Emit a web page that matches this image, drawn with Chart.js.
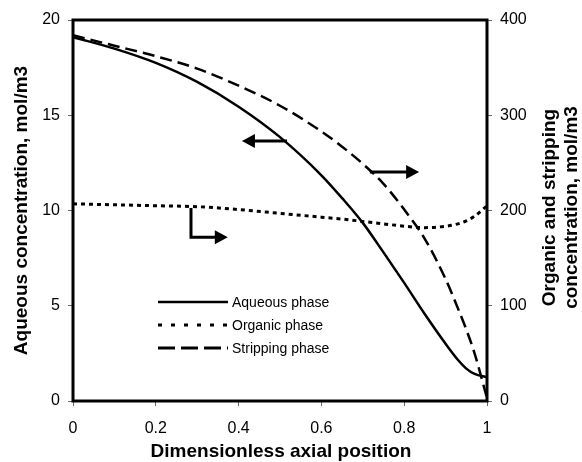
<!DOCTYPE html>
<html>
<head>
<title>Axial concentration profiles</title>
<script src="https://cdn.jsdelivr.net/npm/chart.js"></script>
<style>
  body { margin: 0; background: #fff; }
</style>
</head>
<body>
<canvas id="profiles" width="582" height="462"></canvas>
<script>
// dimensionless axial position
const positions = [0, 0.1, 0.2, 0.3, 0.4, 0.5, 0.6, 0.65, 0.7, 0.75, 0.8, 0.85, 0.9, 0.93, 0.95, 0.97, 1];
// aqueous phase, mol/m3 (left axis)
const aqueous = [19.1, 18.5, 17.75, 16.75, 15.45, 13.85, 11.85, 10.65, 9.35, 7.8, 6.2, 4.55, 3.0, 2.15, 1.7, 1.42, 1.25];
// organic + stripping phases, mol/m3 (right axis)
const organic = [207, 206, 205, 204, 201, 197, 193, 191, 188.5, 186, 183.5, 182, 183.5, 186, 189, 194, 205];
const stripping = [384, 373, 362, 349, 331, 310, 283, 267, 249, 228, 201, 170, 128, 97, 75, 50, 3];

const xTicks = [0, 0.2, 0.4, 0.6, 0.8, 1];
const seriesNames = ['Aqueous phase', 'Organic phase', 'Stripping phase'];

const FONT = "Arial, 'Liberation Sans', sans-serif";

function pts(ys) {
    return positions.map((x, i) => ({ x: x, y: ys[i] }));
}

function arrowHead(ctx, x, y, dir) {
    // dir: 1 = right, -1 = left
    ctx.beginPath();
    ctx.moveTo(x, y);
    ctx.lineTo(x - dir * 13, y - 7);
    ctx.lineTo(x - dir * 13, y + 7);
    ctx.closePath();
    ctx.fill();
}

const extras = {
    id: 'extras',
    afterDatasetsDraw(chart) {
        const ctx = chart.ctx;
        const a = chart.chartArea;
        const xs = chart.scales.x, ys = chart.scales.y;
        ctx.save();

        // frame
        ctx.strokeStyle = '#000';
        ctx.lineWidth = 3;
        ctx.strokeRect(a.left, a.top, a.right - a.left, a.bottom - a.top);

        ctx.fillStyle = '#000';
        ctx.lineWidth = 3;

        // arrow to left axis
        let y = ys.getPixelForValue(13.65);
        let x0 = xs.getPixelForValue(0.517), x1 = xs.getPixelForValue(0.408);
        ctx.beginPath(); ctx.moveTo(x0, y); ctx.lineTo(x1 + 10, y); ctx.stroke();
        arrowHead(ctx, x1, y, -1);

        // arrow to right axis
        y = ys.getPixelForValue(12.02);
        x0 = xs.getPixelForValue(0.717); x1 = xs.getPixelForValue(0.836);
        ctx.beginPath(); ctx.moveTo(x0, y); ctx.lineTo(x1 - 10, y); ctx.stroke();
        arrowHead(ctx, x1, y, 1);

        // bent arrow for organic phase
        const bx = xs.getPixelForValue(0.285);
        const by0 = ys.getPixelForValue(10.13), by1 = ys.getPixelForValue(8.6);
        x1 = xs.getPixelForValue(0.374);
        ctx.beginPath(); ctx.moveTo(bx, by0); ctx.lineTo(bx, by1); ctx.lineTo(x1 - 10, by1); ctx.stroke();
        arrowHead(ctx, x1, by1, 1);

        // legend
        const styles = [
            { dash: [], w: 2.5 },
            { dash: [4, 9], w: 3 },
            { dash: [17, 6], w: 3 }
        ];
        ctx.font = '14px ' + FONT;
        ctx.textBaseline = 'middle';
        ctx.textAlign = 'left';
        seriesNames.forEach((name, i) => {
            const ly = 302 + i * 23;
            ctx.setLineDash(styles[i].dash);
            ctx.lineWidth = styles[i].w;
            ctx.lineCap = 'butt';
            ctx.beginPath(); ctx.moveTo(158, ly); ctx.lineTo(228, ly); ctx.stroke();
            ctx.setLineDash([]);
            ctx.fillText(name, 232, ly + 1);
        });

        // axis titles
        ctx.font = 'bold 19px ' + FONT;
        ctx.textAlign = 'center';
        ctx.fillText('Dimensionless axial position', 281, 452);

        const midY = (a.top + a.bottom) / 2;
        ctx.translate(0, midY);
        ctx.rotate(-Math.PI / 2);
        ctx.fillText('Aqueous concentration, mol/m3', 0, 22);
        ctx.fillText('Organic and stripping', 3, 550);
        ctx.fillText('concentration, mol/m3', 3, 572);
        ctx.restore();
    }
};

new Chart(document.getElementById('profiles'), {
    type: 'line',
    data: {
        datasets: [
            {
                label: seriesNames[0], data: pts(aqueous), yAxisID: 'y',
                borderColor: '#000', borderWidth: 2.5, pointRadius: 0,
                cubicInterpolationMode: 'monotone'
            },
            {
                label: seriesNames[1], data: pts(organic), yAxisID: 'y2',
                borderColor: '#000', borderWidth: 3, borderDash: [4, 4], pointRadius: 0,
                cubicInterpolationMode: 'monotone'
            },
            {
                label: seriesNames[2], data: pts(stripping), yAxisID: 'y2',
                borderColor: '#000', borderWidth: 2.5, borderDash: [12, 6], pointRadius: 0,
                cubicInterpolationMode: 'monotone'
            }
        ]
    },
    options: {
        responsive: false,
        animation: false,
        layout: { padding: { top: 20, left: 0, right: 0, bottom: 0 } },
        plugins: { legend: { display: false }, tooltip: { enabled: false } },
        scales: {
            x: {
                type: 'linear', min: 0, max: 1,
                afterBuildTicks: s => { s.ticks = xTicks.map(v => ({ value: v })); },
                afterFit: s => { s.height = 61; },
                grid: { drawOnChartArea: false, tickLength: 5, tickColor: '#666' },
                border: { display: false },
                ticks: { color: '#000', padding: 13, font: { size: 16, family: FONT }, maxRotation: 0,
                         callback: v => String(v) }
            },
            y: {
                position: 'left', min: 0, max: 20,
                afterFit: s => { s.width = 73; },
                grid: { drawOnChartArea: false, tickLength: 5, tickColor: '#666' },
                border: { display: false },
                ticks: { stepSize: 5, color: '#000', padding: 8, font: { size: 16, family: FONT } }
            },
            y2: {
                position: 'right', min: 0, max: 400,
                afterFit: s => { s.width = 95; },
                grid: { drawOnChartArea: false, tickLength: 5, tickColor: '#666' },
                border: { display: false },
                ticks: { stepSize: 100, color: '#000', padding: 8, font: { size: 16, family: FONT } }
            }
        }
    },
    plugins: [extras]
});
</script>
</body>
</html>
